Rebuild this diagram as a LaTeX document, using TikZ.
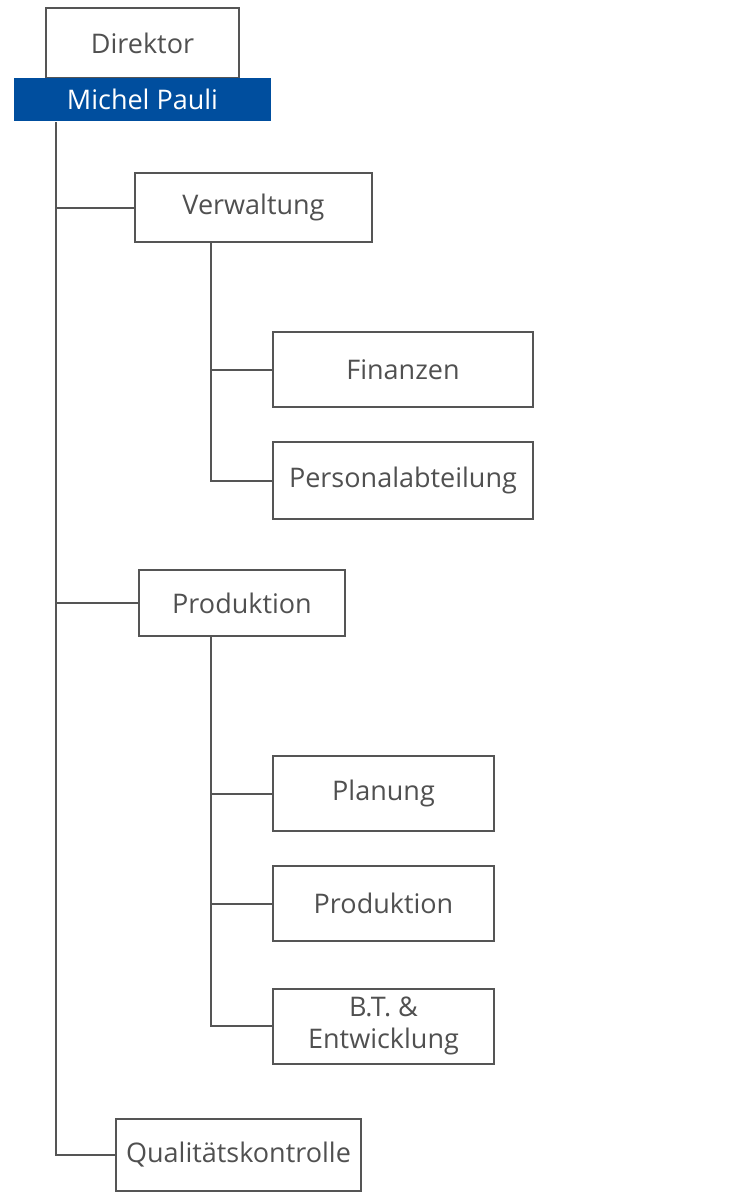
\documentclass[tikz,border=0pt]{standalone}
\usepackage{fontspec}
\setmainfont{Open Sans}
\definecolor{linegray}{HTML}{555555}
\definecolor{textgray}{HTML}{505050}
\definecolor{headblue}{HTML}{004E9E}
\tikzset{
	unit/.style={draw=linegray, line width=2pt, text=textgray, inner sep=0pt, align=center,
		font=\fontsize{27}{32}\selectfont},
	link/.style={draw=linegray, line width=2pt},
}

\begin{document}
\begin{tikzpicture}[x=1pt,y=-1pt]
	\useasboundingbox (0,0) rectangle (750,1200);
	% head
	\node[unit, minimum width=193pt, minimum height=70pt] (dir) at (142.5,43) {Direktor};
	\node[unit, draw=none, fill=headblue, text=white, minimum width=257pt, minimum height=43pt]
		(name) at (142.5,99.5) {Michel Pauli};
	% departments
	\node[unit, minimum width=237pt, minimum height=69pt] (verw) at (253.5,207.5) {Verwaltung};
	\node[unit, minimum width=260pt, minimum height=75pt] (fin) at (403,369.5) {Finanzen};
	\node[unit, minimum width=260pt, minimum height=77pt] (pers) at (403,480.5) {Personalabteilung};
	\node[unit, minimum width=206pt, minimum height=66pt] (prod) at (242,603) {Produktion};
	\node[unit, minimum width=221pt, minimum height=75pt] (plan) at (383.5,793.5) {Planung};
	\node[unit, minimum width=221pt, minimum height=75pt] (fert) at (383.5,903.5) {Produktion};
	\node[unit, minimum width=221pt, minimum height=75pt] (bt) at (383.5,1026) {B.T. \&\\Entwicklung};
	\node[unit, minimum width=245pt, minimum height=72pt] (qual) at (238.5,1155) {Qualitätskontrolle};
	% connectors
	\coordinate (trunk) at (56,0);
	\coordinate (branch) at (211,0);
	\draw[link] (trunk |- name.south) |- (qual.west);
	\draw[link] (trunk |- verw.west) -- (verw.west);
	\draw[link] (trunk |- prod.west) -- (prod.west);
	\draw[link] (branch |- verw.south) |- (pers.west);
	\draw[link] (branch |- fin.west) -- (fin.west);
	\draw[link] (branch |- prod.south) |- (bt.west);
	\draw[link] (branch |- plan.west) -- (plan.west);
	\draw[link] (branch |- fert.west) -- (fert.west);
\end{tikzpicture}
\end{document}
